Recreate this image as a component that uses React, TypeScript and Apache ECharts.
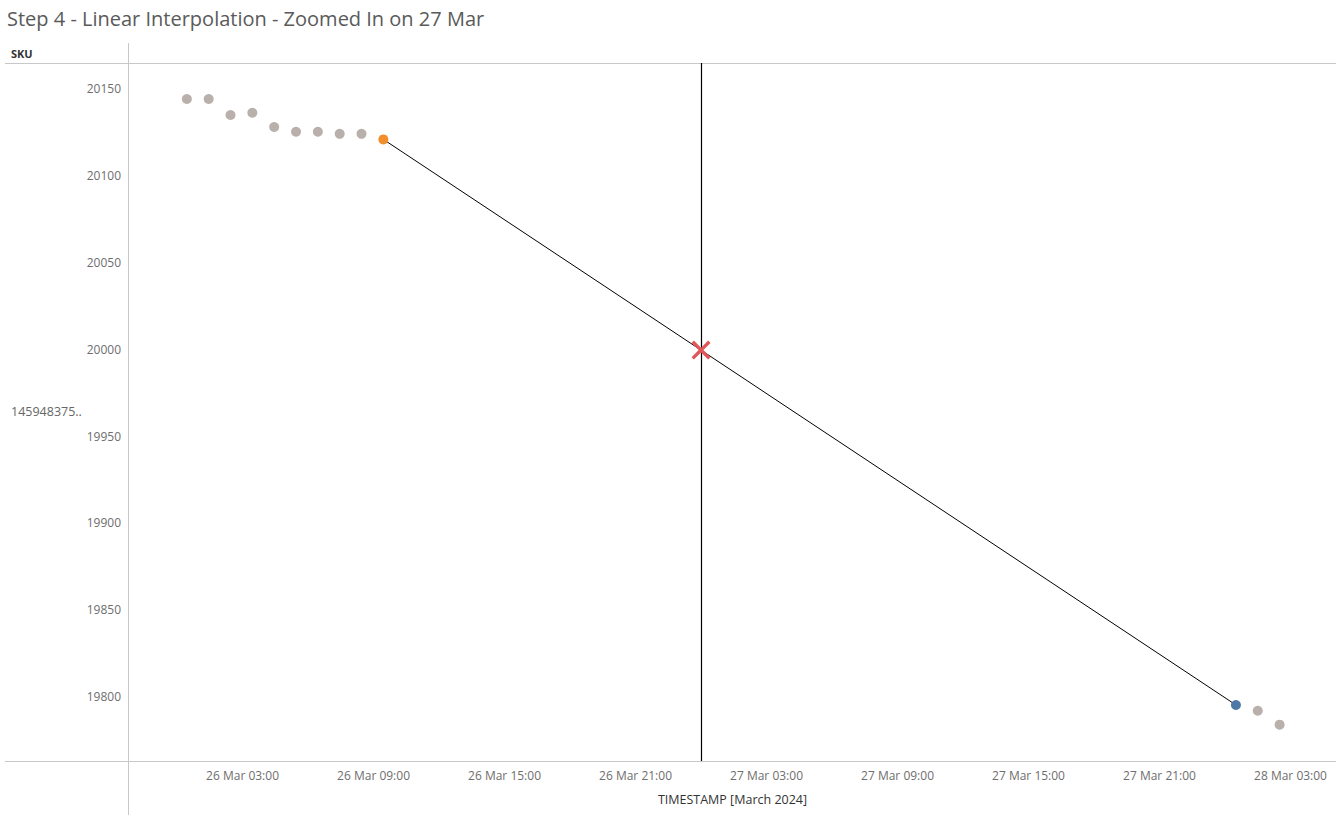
import React, { useEffect, useRef } from "react";
import * as echarts from "echarts";

// ---- data (times in UTC, "YYYY-MM-DD HH:mm") ----
const BEFORE_TIMES = [
  "2024-03-26 00:27", "2024-03-26 01:27", "2024-03-26 02:27", "2024-03-26 03:27",
  "2024-03-26 04:27", "2024-03-26 05:27", "2024-03-26 06:27", "2024-03-26 07:27",
  "2024-03-26 08:27",
];
const BEFORE_VALUES = [20143.7, 20143.7, 20134.5, 20135.8, 20127.6, 20124.9, 20124.9, 20123.7, 20123.7];

const AFTER_TIMES = ["2024-03-28 01:30", "2024-03-28 02:30"];
const AFTER_VALUES = [19792.1, 19784.1];

const PREV_TIME = "2024-03-26 09:27";
const PREV_VALUE = 20120.5;
const NEXT_TIME = "2024-03-28 00:30";
const NEXT_VALUE = 19795.4;

const TARGET_TIME = "2024-03-27 00:00";
const TARGET_VALUE = 19999.4;

const X_MIN = "2024-03-25 21:48";
const X_MAX = "2024-03-28 05:05";
const X_TICKS = [
  "2024-03-26 03:00", "2024-03-26 09:00", "2024-03-26 15:00", "2024-03-26 21:00",
  "2024-03-27 03:00", "2024-03-27 09:00", "2024-03-27 15:00", "2024-03-27 21:00",
  "2024-03-28 03:00",
];
const Y_MIN = 19763.2;
const Y_MAX = 20164.4;
const Y_TICKS = [19800, 19850, 19900, 19950, 20000, 20050, 20100, 20150];

const MONTHS = ["Jan", "Feb", "Mar", "Apr", "May", "Jun", "Jul", "Aug", "Sep", "Oct", "Nov", "Dec"];

function toMs(s: string): number {
  const [d, t] = s.split(" ");
  const [y, m, day] = d.split("-").map(Number);
  const [h, mi] = t.split(":").map(Number);
  return Date.UTC(y, m - 1, day, h, mi);
}
function pad(n: number) {
  return n < 10 ? "0" + n : "" + n;
}
function fmt(v: number) {
  const d = new Date(v);
  return `${d.getUTCDate()} ${MONTHS[d.getUTCMonth()]} ${pad(d.getUTCHours())}:${pad(d.getUTCMinutes())}`;
}

const FONT = "Open Sans";
const CROSS =
  "path://M0,2.5 L2.5,0 L10,7.5 L17.5,0 L20,2.5 L12.5,10 L20,17.5 L17.5,20 L10,12.5 L2.5,20 L0,17.5 L7.5,10 Z";

export default function App() {
  const ref = useRef<HTMLDivElement>(null);
  useEffect(() => {
    if (!ref.current) return;
    const chart = echarts.init(ref.current, undefined, { renderer: "svg" });
    const greyData = [
      ...BEFORE_TIMES.map((t, i) => [toMs(t), BEFORE_VALUES[i]]),
      ...AFTER_TIMES.map((t, i) => [toMs(t), AFTER_VALUES[i]]),
    ];
    const option: any = {
      animation: false,
      backgroundColor: "#ffffff",
      textStyle: { fontFamily: FONT },
      grid: { left: 129, right: 0, top: 63, bottom: 54, containLabel: false },
      xAxis: {
        type: "value",
        min: toMs(X_MIN),
        max: toMs(X_MAX),
        axisLine: { show: false },
        axisTick: { show: false },
        splitLine: { show: false },
        axisLabel: {
          customValues: X_TICKS.map(toMs),
          formatter: (v: number) => fmt(v),
          color: "#6e6e6e",
          fontSize: 12,
          fontFamily: FONT,
          margin: 8,
        },
        name: "TIMESTAMP [March 2024]",
        nameLocation: "middle",
        nameGap: 32,
        nameTextStyle: { color: "#333333", fontSize: 12.5, fontFamily: FONT },
      },
      yAxis: {
        type: "value",
        min: Y_MIN,
        max: Y_MAX,
        axisLine: { show: false },
        axisTick: { show: false },
        splitLine: { show: false },
        axisLabel: {
          customValues: Y_TICKS,
          formatter: (v: number) => String(v),
          color: "#6e6e6e",
          fontSize: 12,
          fontFamily: FONT,
          margin: 8,
        },
      },
      series: [
        {
          type: "line",
          data: [
            [toMs(PREV_TIME), PREV_VALUE],
            [toMs(NEXT_TIME), NEXT_VALUE],
          ],
          symbol: "none",
          lineStyle: { color: "#000000", width: 1 },
          silent: true,
          z: 2,
          markLine: {
            silent: true,
            symbol: "none",
            label: { show: false },
            lineStyle: { color: "#000000", width: 1.2, type: "solid" },
            data: [{ xAxis: toMs(TARGET_TIME) }],
          },
        },
        {
          type: "scatter",
          data: greyData,
          symbolSize: 10,
          itemStyle: { color: "#b9b0ac", opacity: 1 },
          z: 3,
        },
        {
          type: "scatter",
          data: [[toMs(PREV_TIME), PREV_VALUE]],
          symbolSize: 10,
          itemStyle: { color: "#f28e2b", opacity: 1 },
          z: 4,
        },
        {
          type: "scatter",
          data: [[toMs(NEXT_TIME), NEXT_VALUE]],
          symbolSize: 10,
          itemStyle: { color: "#4e79a7", opacity: 1 },
          z: 4,
        },
        {
          type: "scatter",
          data: [[toMs(TARGET_TIME), TARGET_VALUE]],
          symbol: CROSS,
          symbolSize: 19,
          itemStyle: { color: "#e15759", opacity: 1 },
          z: 5,
        },
      ],
      graphic: [
        {
          type: "text",
          left: 7,
          top: 8,
          style: {
            text: "Step 4 - Linear Interpolation - Zoomed In on 27 Mar",
            fill: "#5a5a5a",
            fontSize: 20,
            fontFamily: FONT,
          },
        },
        {
          type: "text",
          left: 11,
          top: 48,
          style: { text: "SKU", fill: "#333333", fontSize: 11, fontWeight: "bold", fontFamily: FONT },
        },
        {
          type: "text",
          left: 11,
          top: 405,
          style: { text: "145948375..", fill: "#666666", fontSize: 12.5, fontFamily: FONT },
        },
        {
          type: "line",
          shape: { x1: 5, y1: 63.5, x2: 1336, y2: 63.5 },
          style: { stroke: "#c8c8c8", lineWidth: 1 },
          silent: true,
        },
        {
          type: "line",
          shape: { x1: 5, y1: 761.5, x2: 1336, y2: 761.5 },
          style: { stroke: "#c8c8c8", lineWidth: 1 },
          silent: true,
        },
        {
          type: "line",
          shape: { x1: 128.5, y1: 43, x2: 128.5, y2: 815 },
          style: { stroke: "#c8c8c8", lineWidth: 1 },
          silent: true,
        },
      ],
    };
    chart.setOption(option);
    return () => chart.dispose();
  }, []);
  return (
    <div
      ref={ref}
      style={{ position: "absolute", left: 0, top: 0, width: 1336, height: 815, background: "#fff" }}
    />
  );
}
